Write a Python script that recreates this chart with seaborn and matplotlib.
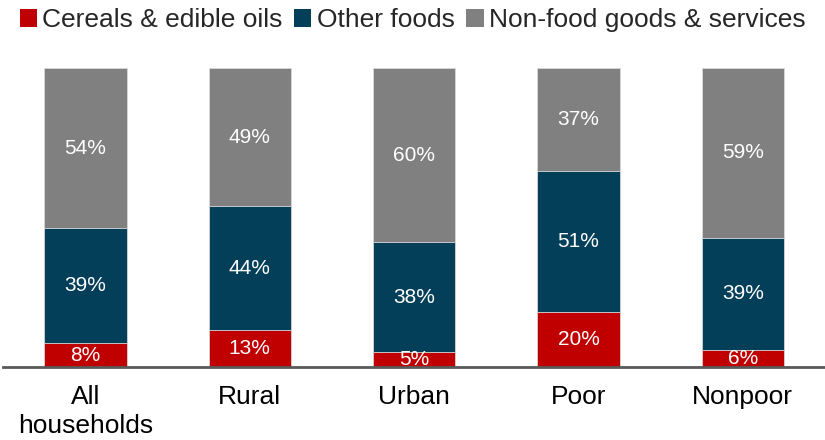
import matplotlib
matplotlib.use("Agg")
import matplotlib.pyplot as plt
from matplotlib.patches import Patch
import numpy as np
import pandas as pd
import seaborn as sns

groups = ["All\nhouseholds", "Rural", "Urban", "Poor", "Nonpoor"]
cereals = [8, 13, 5, 20, 6]
other_foods = [39, 44, 38, 51, 39]
non_food = [54, 49, 60, 37, 59]

series = ["Cereals & edible oils", "Other foods", "Non-food goods & services"]
colors = ["#C00000", "#043F5A", "#808080"]

sns.set_theme(style="white")
plt.rcParams["font.family"] = ["Liberation Sans", "DejaVu Sans"]

vals = np.array([cereals, other_foods, non_food], dtype=float)
# bars are drawn as shares of the (rounded) total
shares = vals / vals.sum(axis=0) * 100
tops = shares.cumsum(axis=0)
bottoms = tops - shares

fig = plt.figure(figsize=(8.25, 4.4), dpi=100)
ax = fig.add_axes([0.004, 0.166, 0.996, 0.679])

# draw from the top segment down so the lower ones cover it
for i in [2, 1, 0]:
    df = pd.DataFrame({"group": groups, "top": tops[i]})
    sns.barplot(data=df, x="group", y="top", color=colors[i], width=0.5,
                saturation=1, edgecolor="#d9d9d9", linewidth=0.6, ax=ax)

for i in range(3):
    for j in range(len(groups)):
        ax.text(j, bottoms[i, j] + shares[i, j] / 2, f"{vals[i, j]:.0f}%",
                ha="center", va="center", color="white", fontsize=15)

ax.set_ylim(0, 100)
ax.set_xlim(-0.5, len(groups) - 0.5)
ax.set_xlabel("")
ax.set_ylabel("")
ax.set_yticks([])
for s in ["top", "right", "left"]:
    ax.spines[s].set_visible(False)
ax.spines["bottom"].set_color("#595959")
ax.spines["bottom"].set_linewidth(2)
ax.tick_params(axis="x", length=0, pad=13, labelsize=19, labelcolor="black")
for t in ax.get_xticklabels():
    t.set_linespacing(1.27)

handles = [Patch(facecolor=c, edgecolor="none") for c in colors]
fig.legend(handles, series, loc="upper center", bbox_to_anchor=(0.5, 1.035),
           ncol=3, frameon=False, fontsize=19, handlelength=0.65,
           handleheight=0.65, handletextpad=0.2, columnspacing=0.45)

fig.savefig("out.png", dpi=100)
